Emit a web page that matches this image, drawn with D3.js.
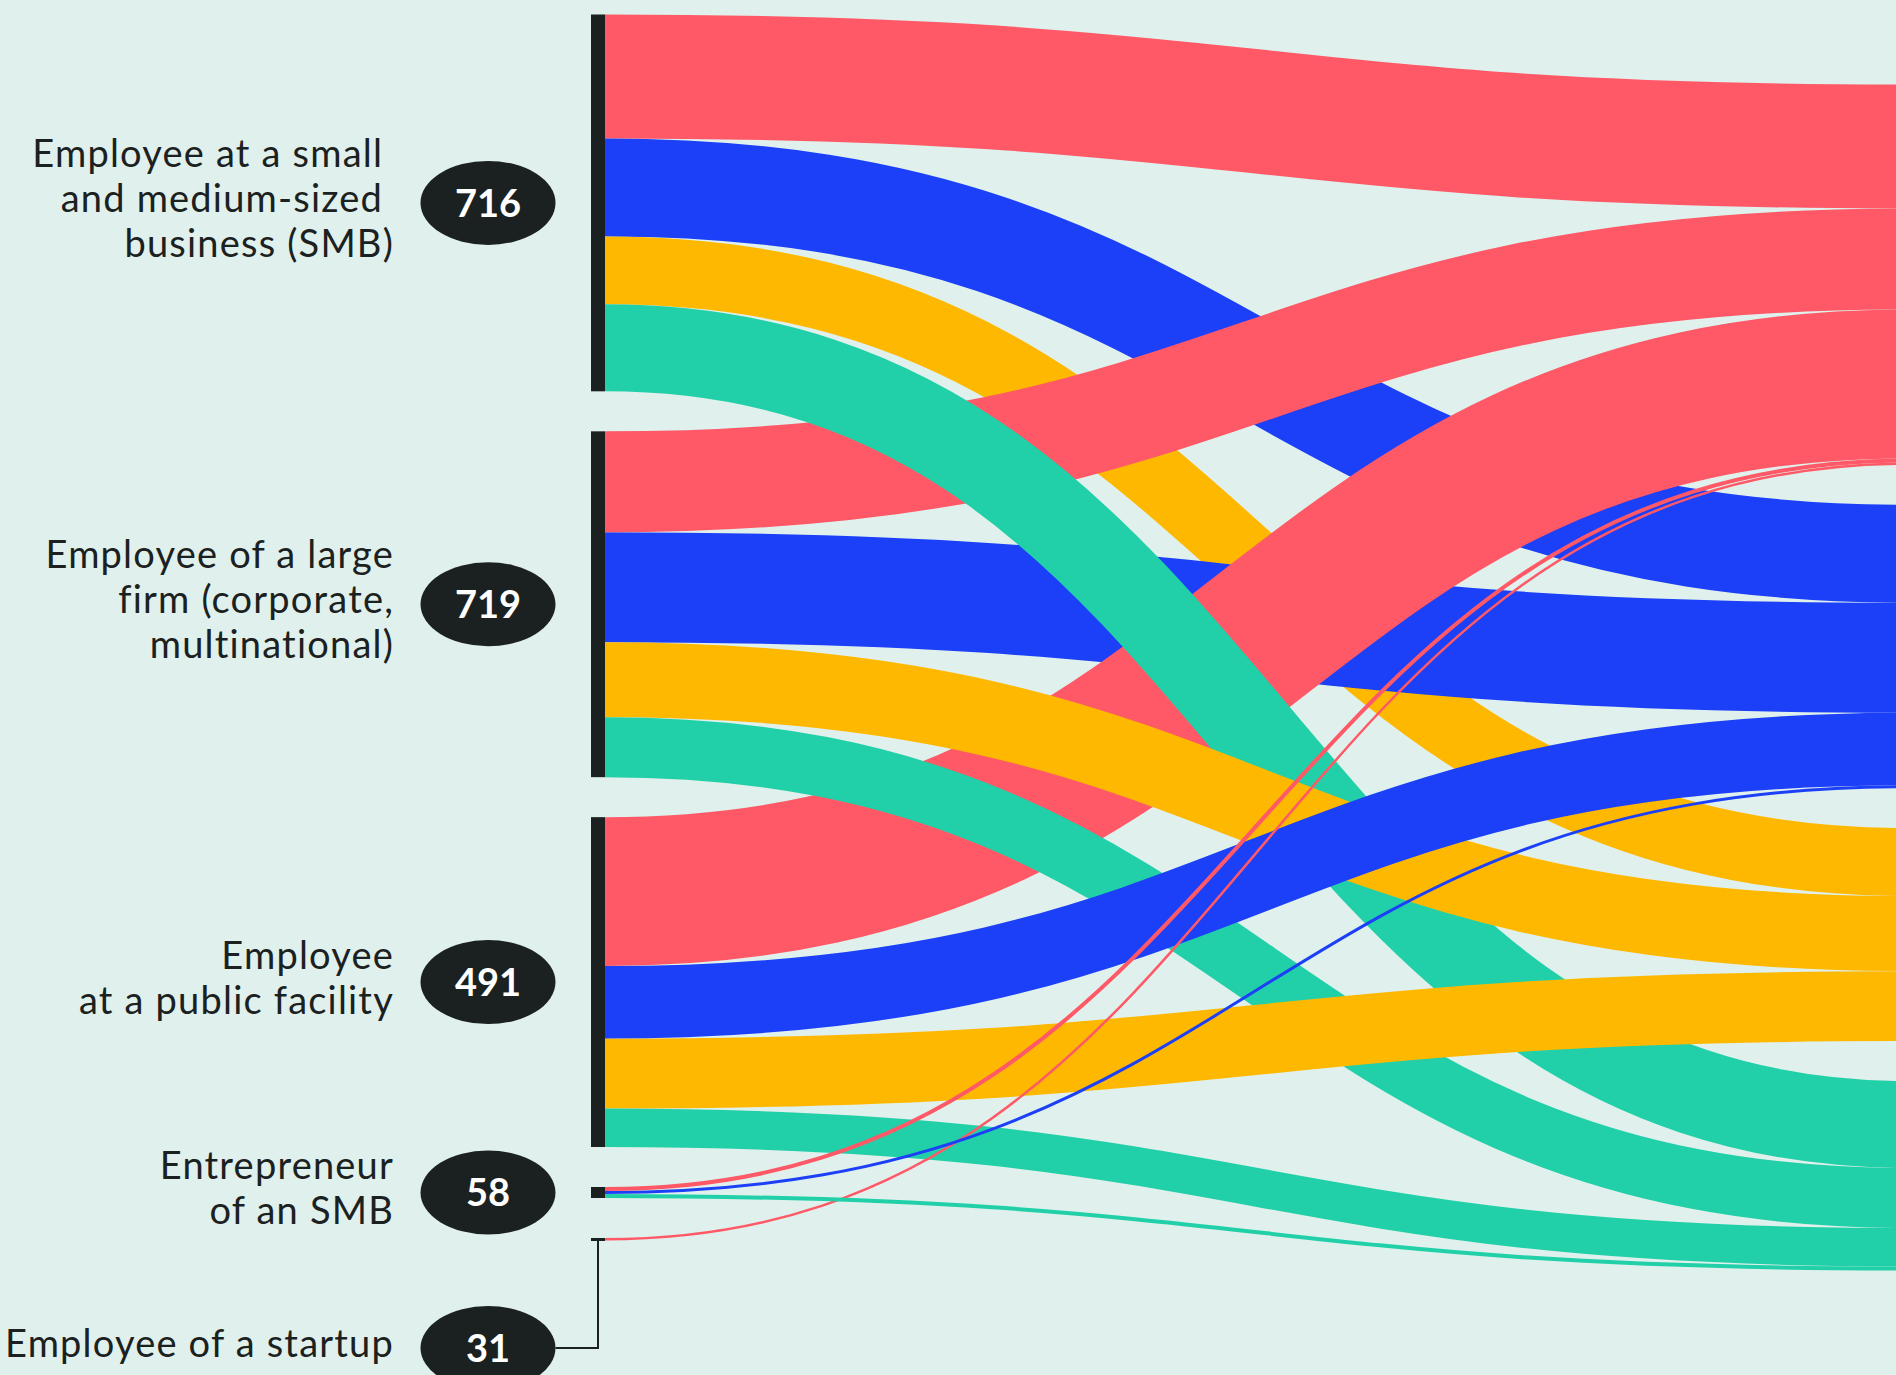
<!DOCTYPE html>
<html>
<head>
<meta charset="utf-8">
<script src="https://cdn.jsdelivr.net/npm/d3@7"></script>
<style>
	body { margin:0; background:#E0F0EC; }
	svg { display:block; }
	.src-label { font-family: Lato, 'Open Sans', sans-serif; font-size:38px; letter-spacing:1.2px; fill:#1B2120; white-space:pre; }
	.badge-num { font-family: Lato, 'Open Sans', sans-serif; font-weight:700; font-size:38px; fill:#FFFFFF; }
</style>
</head>
<body>
<svg id="chart-1" width="1896" height="1375"></svg>
<script>

/*
	DATA
	=============
	Left column = where people work now, right column = 4 groups
	(their titles sit outside the crop, only the colours are seen).
*/
const sources = ['SMB', 'Large', 'Public', 'Entrepreneur', 'Startup'];
const sourceLabels = [
	['Employee at a small ', 'and medium-sized ', 'business (SMB)'],
	['Employee of a large', 'firm (corporate,', 'multinational)'],
	['Employee', 'at a public facility'],
	['Entrepreneur', 'of an SMB'],
	['Employee of a startup']
];
const sourceCounts = [716, 719, 491, 58, 31];

const targets = ['red', 'blue', 'yellow', 'green'];

// flow of each source into the targets (same order as targets)
const flowSMB          = [124, 98, 68, 87];
const flowLarge        = [101, 110, 75, 60];
const flowPublic       = [149, 72.5, 70, 38.5];
const flowEntrepreneur = [4, 3, 0, 4];
const flowStartup      = [2.5, 0, 0, 0];

// --- styles / layout ----------------------------------------
const targetColors = ['#FF5866', '#1B40F8', '#FFB800', '#21D0A8'];
const DARK = '#1B2120';

const width = 1896;
const height = 1375;
const nodePad = 40;
const leftTop = 14.5;
const leftBottom = 1240.5;
const rightTop = 84.5;
const barX = 591;
const barW = 14;
const targetX = 1910;      // right nodes are just outside the picture
const badgeX = 488;
const badgeRx = 67.5;
const badgeRy = 42;
const startupBadgeY = 1348;
const labelX = 394;
const lineH = 45;

// which link is painted over which (src-target)
const drawOrder = [
	'0-0', '0-1', '0-2', '1-1', '1-0', '2-0', '0-3', '1-2', '1-3',
	'2-2', '2-1', '2-3', '4-0', '3-3', '3-1', '3-0'
];

const flows = [flowSMB, flowLarge, flowPublic, flowEntrepreneur, flowStartup];

function layout() {
	const sourceTotals = flows.map(f => d3.sum(f));
	const grandTotal = d3.sum(sourceTotals);
	
	const k = d3.scaleLinear()
		.domain([0, grandTotal])
		.range([0, leftBottom - leftTop - nodePad*(sources.length-1)]);
	
	let y = leftTop;
	const srcNodes = sources.map((s,i) => {
		const n = {name:s, y0:y, y1:y + k(sourceTotals[i])};
		y = n.y1 + nodePad;
		return n;
	});
	
	y = rightTop;
	const tgtNodes = targets.map((t,j) => {
		const n = {name:t, y0:y, y1:y + k(d3.sum(flows, f => f[j]))};
		y = n.y1 + nodePad;
		return n;
	});
	
	const links = [];
	flows.forEach((f,i) => f.forEach((v,j) => {
		if (v > 0) links.push({source:i, target:j, value:v, key:i+'-'+j});
	}));
	
	const srcOff = srcNodes.map(n => n.y0);
	const tgtOff = tgtNodes.map(n => n.y0);
	links.forEach(l => {
		l.width = k(l.value);
		l.y0 = srcOff[l.source] + l.width/2;
		srcOff[l.source] += l.width;
		l.y1 = tgtOff[l.target] + l.width/2;
		tgtOff[l.target] += l.width;
	});
	
	return {srcNodes, tgtNodes, links};
}

function chart() {
	const {srcNodes, links} = layout();
	
	const svg = d3.select('svg#chart-1')
		.attr('width', width)
		.attr('height', height);
	
	svg.append('rect')
		.attr('width', width)
		.attr('height', height)
		.attr('fill', '#E0F0EC');
	
	const linkPath = d3.linkHorizontal()
		.source(d => [barX + barW, d.y0])
		.target(d => [targetX, d.y1]);
	
	const sorted = links.slice().sort((a,b) => drawOrder.indexOf(a.key) - drawOrder.indexOf(b.key));
	
	svg.append('g')
		.attr('fill', 'none')
		.selectAll('path').data(sorted)
		.enter().append('path')
			.attr('d', linkPath)
			.attr('stroke', d => targetColors[d.target])
			.attr('stroke-width', d => Math.max(d.width, 1));
	
	// node bars
	svg.append('g')
		.selectAll('rect').data(srcNodes)
		.enter().append('rect')
			.attr('x', barX)
			.attr('y', d => d.y0)
			.attr('width', barW)
			.attr('height', d => Math.max(d.y1 - d.y0, 3))
			.attr('fill', DARK);
	
	const badgeY = (d,i) => i === sources.length-1 ? startupBadgeY : (d.y0 + d.y1)/2;
	
	// the startup node is too thin, so its badge is pulled down with a line
	const last = srcNodes[srcNodes.length-1];
	svg.append('path')
		.attr('d', `M${barX + barW/2},${last.y0} V${startupBadgeY} H${badgeX + badgeRx}`)
		.attr('fill', 'none')
		.attr('stroke', DARK)
		.attr('stroke-width', 2);
	
	const badges = svg.append('g')
		.selectAll('g').data(srcNodes)
		.enter().append('g')
			.attr('transform', (d,i) => `translate(${badgeX},${badgeY(d,i)})`);
	
	badges.append('ellipse')
		.attr('rx', badgeRx)
		.attr('ry', badgeRy)
		.attr('fill', DARK);
	
	badges.append('text')
		.attr('class', 'badge-num')
		.attr('text-anchor', 'middle')
		.attr('dy', '0.36em')
		.text((d,i) => sourceCounts[i]);
	
	// labels, right aligned, lines centred on the node
	const labels = svg.append('g')
		.selectAll('text').data(srcNodes)
		.enter().append('text')
			.attr('class', 'src-label')
			.attr('text-anchor', 'end')
			.attr('transform', (d,i) => `translate(${labelX},${badgeY(d,i) + 9})`);
	
	labels.selectAll('tspan')
		.data((d,i) => sourceLabels[i].map((t,j,arr) => ({t, off:(j - (arr.length-1)/2)*lineH})))
		.enter().append('tspan')
			.attr('x', 0)
			.attr('y', d => d.off)
			.text(d => d.t);
}

chart();
</script>
</body>
</html>
